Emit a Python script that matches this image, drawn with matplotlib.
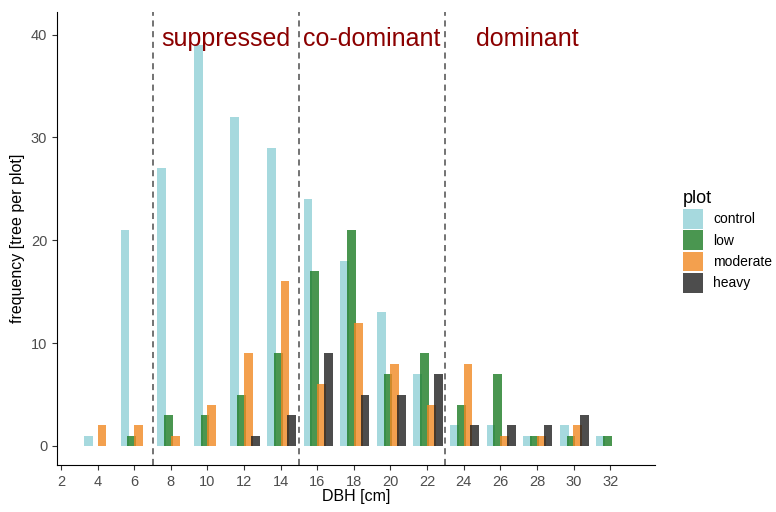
import numpy as np
import matplotlib.pyplot as plt
from matplotlib.patches import Patch

plt.rcParams['font.family'] = ['Liberation Sans', 'DejaVu Sans']

# DBH classes [cm]
dbh = [4, 6, 8, 10, 12, 14, 16, 18, 20, 22, 24, 26, 28, 30, 32]

# frequency per plot (None = class not present)
control = [1, 21, 27, 39, 32, 29, 24, 18, 13, 7, 2, 2, 1, 2, 1]
low = [None, 1, 3, 3, 5, 9, 17, 21, 7, 9, 4, 7, 1, 1, 1]
moderate = [2, 2, 1, 4, 9, 16, 6, 12, 8, 4, 8, 1, 1, 2, None]
heavy = [None, None, None, None, 1, 3, 9, 5, 5, 7, 2, 2, 2, 3, None]

plots = ["control", "low", "moderate", "heavy"]
series = [control, low, moderate, heavy]
colors = ["#90d0d6", "#1d7c24", "#f18822", "#202020"]
alpha = 0.8

# class borders and labels
borders = [7, 15, 23]
classes = ["suppressed", "co-dominant", "dominant"]
class_x = [11, 19, 27.5]

fig = plt.figure(figsize=(7.76, 5.12), dpi=100)
ax = fig.add_axes([0.0735, 0.0918, 0.7705, 0.8848])

dodge = 0.37
width = 0.48
for i, (vals, col) in enumerate(zip(series, colors)):
    xs = [d + (i - 1.5) * dodge + 0.05 for d, v in zip(dbh, vals) if v is not None]
    ys = [v for v in vals if v is not None]
    ax.bar(xs, ys, width=width, color=col, alpha=alpha, linewidth=0)

for b in borders:
    ax.axvline(b, color="#4d4d4d", linestyle=(0, (4, 3)), linewidth=1.1)

for txt, xpos in zip(classes, class_x):
    ax.text(xpos, 39.6, txt, color="#8b0000", fontsize=18, ha="center", va="center")

ax.set_xlim(1.78, 34.45)
ax.set_ylim(-1.85, 42.2)
ax.set_xticks(range(2, 33, 2))
ax.set_yticks([0, 10, 20, 30, 40])
ax.spines["top"].set_visible(False)
ax.spines["right"].set_visible(False)
ax.spines["left"].set_linewidth(0.8)
ax.spines["bottom"].set_linewidth(0.8)
ax.tick_params(colors="#333333", labelcolor="#4d4d4d", labelsize=10.5, length=3.5, width=0.8)

ax.set_xlabel("DBH [cm]", fontsize=11.5, labelpad=0)
ax.set_ylabel("frequency [tree per plot]", fontsize=11.5, labelpad=4)

handles = [Patch(facecolor=c, alpha=alpha, linewidth=0) for c in colors]
leg = fig.legend(handles, plots, loc="upper left", bbox_to_anchor=(0.880, 0.628),
                 frameon=False, title="plot", fontsize=10, title_fontsize=13,
                 handlelength=1.45, handleheight=1.8, labelspacing=0.12,
                 handletextpad=0.75, borderpad=0, borderaxespad=0)
leg._legend_box.align = "left"

fig.savefig("out.png", dpi=100)
